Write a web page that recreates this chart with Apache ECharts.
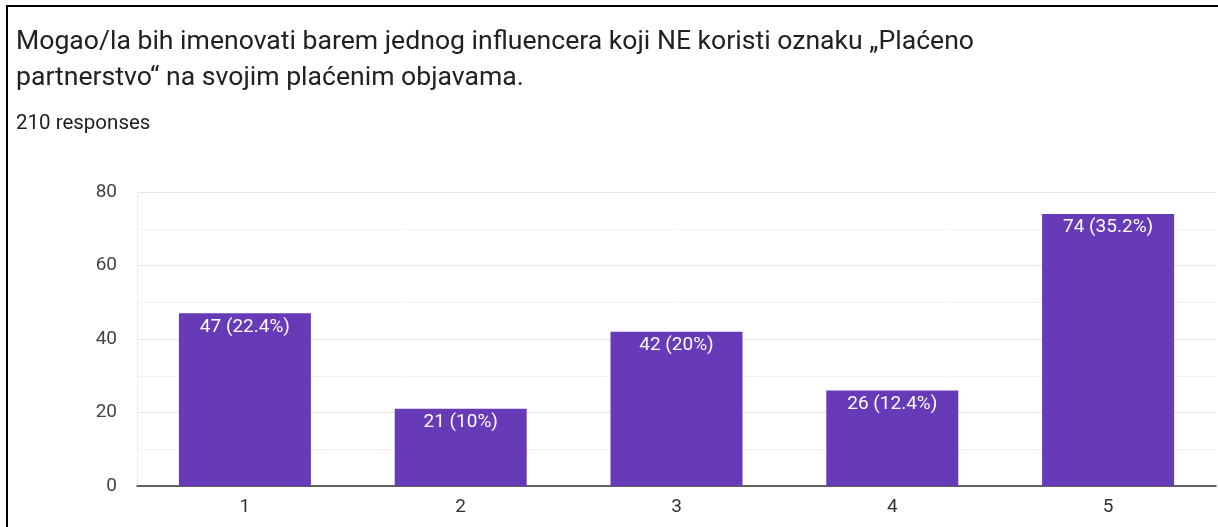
<!DOCTYPE html>
<html>
<head>
<meta charset="utf-8">
<script src="https://cdn.jsdelivr.net/npm/echarts@6/dist/echarts.min.js"></script>
<style>
html,body{margin:0;padding:0;background:#fff;}
#main{width:1218px;height:527px;}
</style>
</head>
<body>
<div id="main"></div>
<script>
var categories = ['1', '2', '3', '4', '5'];
var counts = [47, 21, 42, 26, 74];
var percents = ['22.4', '10', '20', '12.4', '35.2'];
var yTicks = [0, 20, 40, 60, 80];

var myChart = echarts.init(document.getElementById('main'));
var option = {
    backgroundColor: '#fff',
    textStyle: { fontFamily: 'Roboto' },
    title: [{
        text: 'Mogao/la bih imenovati barem jednog influencera koji NE koristi oznaku \u201EPla\u0107eno\npartnerstvo\u201C na svojim pla\u0107enim objavama.',
        left: 16,
        top: 24,
        padding: 0,
        textStyle: { fontSize: 26.6, fontWeight: 'normal', color: '#202124', lineHeight: 36, fontFamily: 'Roboto' }
    }, {
        text: '210 responses',
        left: 16,
        top: 112,
        padding: 0,
        textStyle: { fontSize: 20.5, fontWeight: 'normal', color: '#202124', lineHeight: 24, fontFamily: 'Roboto' }
    }],
    graphic: [
        { type: 'rect', shape: { x: 6, y: 5, width: 1212, height: 2 }, style: { fill: '#000' } },
        { type: 'rect', shape: { x: 6, y: 5, width: 2, height: 522 }, style: { fill: '#000' } }
    ],
    grid: { left: 137, right: 2, top: 192, bottom: 41 },
    xAxis: {
        type: 'category',
        data: categories,
        axisLine: { lineStyle: { color: '#333', width: 1.5 } },
        axisTick: { show: false },
        axisLabel: { fontSize: 19, color: '#333', margin: 12 }
    },
    yAxis: {
        type: 'value',
        min: yTicks[0],
        max: yTicks[yTicks.length - 1],
        interval: 20,
        axisLine: { show: true, lineStyle: { color: '#eeeeee' } },
        axisTick: { show: false },
        axisLabel: { fontSize: 19, color: '#444', margin: 20 },
        splitLine: { lineStyle: { color: '#e6e6e6' } },
        minorTick: { show: false, splitNumber: 2 },
        minorSplitLine: { show: true, lineStyle: { color: '#f3f3f3' } }
    },
    series: [{
        type: 'bar',
        data: counts,
        barWidth: 132,
        itemStyle: { color: '#673ab7' },
        label: {
            show: true,
            position: 'insideTop',
            distance: 4,
            color: '#fff',
            fontSize: 19,
            formatter: function (p) { return p.value + ' (' + percents[p.dataIndex] + '%)'; }
        }
    }]
};
myChart.setOption(option);
</script>
</body>
</html>
